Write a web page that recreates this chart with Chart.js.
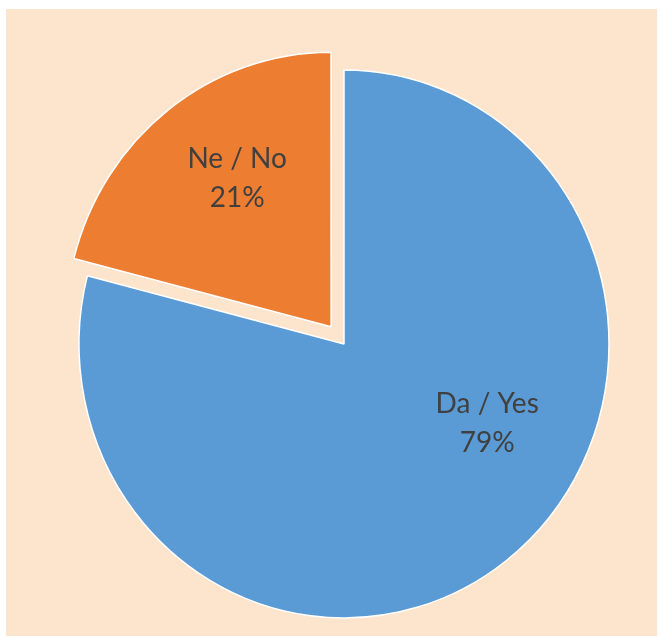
<!DOCTYPE html>
<html>
<head>
<meta charset="utf-8">
<script src="https://cdn.jsdelivr.net/npm/chart.js@4"></script>
<style>
  html, body { margin: 0; padding: 0; background: #ffffff; }
  #wrap { position: relative; width: 660px; height: 637px; }
  canvas { display: block; }
</style>
</head>
<body>
<div id="wrap"><canvas id="c" width="660" height="637"></canvas></div>
<script>
// ---- data ----
const categories = ["Da / Yes", "Ne / No"];
const values = [79, 21];
const percentLabels = ["79%", "21%"];

// ---- styling ----
const sliceColors = ["#5B9BD5", "#ED7D31"];
const BG = "#FDE4CD";
const TEXT = "#404040";
const EXPLODE_PX = 21;          // visible translation of exploded slice
const RADIUS = 265;
const SCALE_Y = 274 / 265;      // reference pie is slightly taller than wide
const labelAngles = [118, 327]; // degrees clockwise from top
const labelFracs = [0.612, 0.651];

const ellipsePlugin = {
  id: 'ellipse',
  beforeDraw(chart) {
    const ctx = chart.ctx;
    ctx.save();
    ctx.fillStyle = BG;
    ctx.fillRect(6, 9, 651, 627);
    ctx.restore();
  },
  beforeDatasetsDraw(chart) {
    const ctx = chart.ctx;
    const arc = chart.getDatasetMeta(0).data[0];
    ctx.save();
    ctx.translate(arc.x, arc.y);
    ctx.scale(1, SCALE_Y);
    ctx.translate(-arc.x, -arc.y);
  },
  afterDatasetsDraw(chart) {
    chart.ctx.restore();
  },
  afterDraw(chart) {
    const ctx = chart.ctx;
    const meta = chart.getDatasetMeta(0);
    ctx.save();
    ctx.fillStyle = TEXT;
    ctx.font = '28px Lato, "Open Sans", sans-serif';
    ctx.textAlign = 'center';
    ctx.textBaseline = 'alphabetic';
    meta.data.forEach((arc, i) => {
      const offs = chart.data.datasets[0].offset[i] ? EXPLODE_PX : 0;
      const half = (arc.startAngle + arc.endAngle) / 2;
      let ux = arc.x + Math.cos(half) * offs;
      let uy = arc.y + Math.sin(half) * offs;
      const a = labelAngles[i] * Math.PI / 180;
      ux += Math.sin(a) * arc.outerRadius * labelFracs[i];
      uy += -Math.cos(a) * arc.outerRadius * labelFracs[i];
      const sx = ux;
      const sy = arc.y + (uy - arc.y) * SCALE_Y;
      // sy is vertical center of the two-line block (cap top of line1 .. baseline of line2)
      ctx.fillText(categories[i], sx, sy - 9.4);
      ctx.fillText(percentLabels[i], sx, sy + 29.3);
    });
    ctx.restore();
  }
};

new Chart(document.getElementById('c'), {
  type: 'pie',
  data: {
    labels: categories,
    datasets: [{
      data: values,
      backgroundColor: sliceColors,
      borderColor: '#ffffff',
      borderWidth: 1.5,
      offset: [0, EXPLODE_PX * 4]
    }]
  },
  options: {
    responsive: false,
    animation: false,
    radius: RADIUS,
    layout: { padding: { left: 28, right: 0, top: 51, bottom: 0 } },
    plugins: {
      legend: { display: false },
      tooltip: { enabled: false }
    }
  },
  plugins: [ellipsePlugin]
});
</script>
</body>
</html>
